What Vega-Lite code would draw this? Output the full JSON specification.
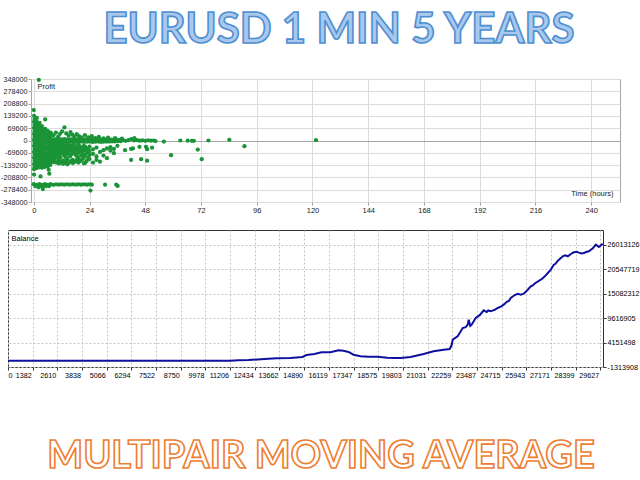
{
"$schema": "https://vega.github.io/schema/vega-lite/v6.json",
"padding": 0,
"spacing": 15,
"config": {
  "view": {"stroke": null},
  "axis": {"labelFont": "Liberation Sans", "labelFontSize": 7.5, "labelColor": "#222222", "titleFont": "Liberation Sans", "titleFontSize": 7.5, "titleFontWeight": "normal", "titleColor": "#222222", "tickSize": 3, "labelPadding": 1, "labelOverlap": false}
},
"datasets": {
  "scat": [
{"h":0.1,"p":140000},{"h":0.3,"p":122000},{"h":0.1,"p":105000},{"h":0.3,"p":88000},{"h":0.1,"p":71000},{"h":0.3,"p":54000},{"h":0.1,"p":37000},{"h":0.3,"p":20000},{"h":0.1,"p":3000},{"h":0.3,"p":-14000},{"h":0.1,"p":-31000},{"h":0.3,"p":-48000},{"h":0.1,"p":-65000},{"h":0.3,"p":-82000},{"h":0.1,"p":-99000},{"h":0.3,"p":-116000},{"h":0.1,"p":-133000},{"h":0.3,"p":-150000},{"h":0.1,"p":-162000},
{"h":1.3,"p":128000},{"h":1.1,"p":110000},{"h":1.3,"p":93000},{"h":1.1,"p":76000},{"h":1.3,"p":59000},{"h":1.1,"p":42000},{"h":1.3,"p":25000},{"h":1.1,"p":8000},{"h":1.3,"p":-9000},{"h":1.1,"p":-26000},{"h":1.3,"p":-43000},{"h":1.1,"p":-60000},{"h":1.3,"p":-77000},{"h":1.1,"p":-94000},{"h":1.3,"p":-111000},{"h":1.1,"p":-128000},{"h":1.3,"p":-145000},{"h":1.1,"p":-157000},
{"h":2.5,"p":100000},{"h":2.3,"p":84000},{"h":2.5,"p":67000},{"h":2.3,"p":50000},{"h":2.5,"p":33000},{"h":2.3,"p":16000},{"h":2.5,"p":-1000},{"h":2.3,"p":-18000},{"h":2.5,"p":-35000},{"h":2.3,"p":-52000},{"h":2.5,"p":-69000},{"h":2.3,"p":-86000},{"h":2.5,"p":-103000},{"h":2.3,"p":-120000},{"h":2.5,"p":-137000},{"h":2.3,"p":-152000},
{"h":3.5,"p":82000},{"h":3.7,"p":64000},{"h":3.5,"p":47000},{"h":3.7,"p":30000},{"h":3.5,"p":13000},{"h":3.7,"p":-4000},{"h":3.5,"p":-21000},{"h":3.7,"p":-38000},{"h":3.5,"p":-55000},{"h":3.7,"p":-72000},{"h":3.5,"p":-89000},{"h":3.7,"p":-106000},{"h":3.5,"p":-123000},{"h":3.7,"p":-140000},{"h":3.5,"p":-154000},
{"h":4.9,"p":66000},{"h":4.7,"p":49000},{"h":4.9,"p":32000},{"h":4.7,"p":15000},{"h":4.9,"p":-2000},{"h":4.7,"p":-19000},{"h":4.9,"p":-36000},{"h":4.7,"p":-53000},{"h":4.9,"p":-70000},{"h":4.7,"p":-87000},{"h":4.9,"p":-104000},{"h":4.7,"p":-121000},{"h":4.9,"p":-138000},{"h":4.7,"p":-150000},
{"h":6.0,"p":55000},{"h":6.2,"p":38000},{"h":6.0,"p":21000},{"h":6.2,"p":4000},{"h":6.0,"p":-13000},{"h":6.2,"p":-30000},{"h":6.0,"p":-47000},{"h":6.2,"p":-64000},{"h":6.0,"p":-81000},{"h":6.2,"p":-98000},{"h":6.0,"p":-115000},{"h":6.2,"p":-132000},{"h":6.0,"p":-146000},
{"h":7.3,"p":44000},{"h":7.1,"p":27000},{"h":7.3,"p":10000},{"h":7.1,"p":-7000},{"h":7.3,"p":-24000},{"h":7.1,"p":-41000},{"h":7.3,"p":-58000},{"h":7.1,"p":-75000},{"h":7.3,"p":-92000},{"h":7.1,"p":-109000},{"h":7.3,"p":-126000},{"h":7.1,"p":-138000},
{"h":2.15,"p":343000},{"h":0.0,"p":172000},{"h":4.9,"p":119000},{"h":13.2,"p":74000},{"h":0.1,"p":-193000},{"h":2.9,"p":-203000},{"h":6.4,"p":-165000},{"h":6.7,"p":-188000},
{"h":8.4,"p":7000},{"h":8.5,"p":-7000},{"h":9.6,"p":8000},{"h":9.7,"p":-6000},{"h":10.8,"p":6000},{"h":10.9,"p":-8000},{"h":12.0,"p":7000},{"h":12.1,"p":-7000},{"h":13.2,"p":8000},{"h":13.3,"p":-6000},{"h":14.4,"p":6000},{"h":14.5,"p":-8000},{"h":15.6,"p":7000},{"h":15.7,"p":-7000},{"h":16.8,"p":8000},{"h":16.9,"p":-6000},{"h":18.0,"p":6000},{"h":18.1,"p":-8000},{"h":19.2,"p":7000},{"h":19.3,"p":-7000},{"h":20.4,"p":8000},{"h":20.5,"p":-6000},{"h":21.6,"p":6000},{"h":21.7,"p":-8000},{"h":22.8,"p":7000},{"h":22.9,"p":-7000},{"h":24.0,"p":8000},{"h":24.1,"p":-6000},{"h":25.2,"p":6000},{"h":25.3,"p":-8000},{"h":26.4,"p":7000},{"h":26.5,"p":-7000},{"h":27.6,"p":8000},{"h":27.7,"p":-6000},{"h":28.8,"p":6000},{"h":28.9,"p":-8000},{"h":30.0,"p":7000},{"h":30.1,"p":-7000},{"h":31.2,"p":6000},{"h":31.3,"p":-6000},{"h":32.4,"p":5000},{"h":32.5,"p":-6000},{"h":33.6,"p":5000},{"h":33.7,"p":-5000},{"h":34.8,"p":4000},{"h":34.9,"p":-5000},{"h":36.0,"p":4000},{"h":36.1,"p":-4000},{"h":37.2,"p":3000},{"h":37.3,"p":-4000},
{"h":38.4,"p":1000},{"h":39.6,"p":-2000},{"h":40.8,"p":2000},{"h":42.0,"p":8000},{"h":43.3,"p":13000},{"h":43.2,"p":0},{"h":44.4,"p":2000},{"h":45.6,"p":-1000},{"h":46.8,"p":1000},{"h":48.0,"p":-2000},{"h":49.2,"p":1000},{"h":50.4,"p":-1000},{"h":51.6,"p":0},{"h":52.4,"p":-3000},
{"h":56.0,"p":-6000},{"h":63.1,"p":0},{"h":66.3,"p":-1000},{"h":68.1,"p":-2000},{"h":68.9,"p":-2000},{"h":75.2,"p":0},{"h":84.2,"p":4000},{"h":121.5,"p":2000},
{"h":39.3,"p":-55000},{"h":41.9,"p":-48000},{"h":42.7,"p":-45000},{"h":45.5,"p":-36000},{"h":48.3,"p":-36000},{"h":48.8,"p":-49000},{"h":50.9,"p":-41000},{"h":41.9,"p":-110000},{"h":46.2,"p":-106000},{"h":48.8,"p":-114000},{"h":59.1,"p":-83000},{"h":70.6,"p":-51000},{"h":72.3,"p":-106000},{"h":90.7,"p":-32000},
{"h":8.5,"p":30000},{"h":9.5,"p":45000},{"h":10.5,"p":22000},{"h":11.3,"p":38000},{"h":12.2,"p":52000},{"h":14.0,"p":40000},{"h":15.0,"p":28000},{"h":15.8,"p":48000},{"h":16.6,"p":33000},{"h":17.5,"p":20000},{"h":18.5,"p":36000},{"h":19.4,"p":25000},{"h":20.5,"p":17000},{"h":22.0,"p":30000},{"h":23.5,"p":18000},{"h":25.0,"p":25000},{"h":26.5,"p":14000},{"h":28.0,"p":20000},{"h":30.0,"p":12000},{"h":32.0,"p":16000},{"h":35.0,"p":14000},{"h":38.0,"p":10000},
{"h":8.4,"p":-20000},{"h":8.4,"p":-37000},{"h":8.4,"p":-54000},{"h":8.4,"p":-71000},{"h":8.4,"p":-88000},{"h":8.4,"p":-105000},{"h":8.4,"p":-122000},
{"h":9.6,"p":-22000},{"h":9.6,"p":-40000},{"h":9.6,"p":-58000},{"h":9.6,"p":-76000},{"h":9.6,"p":-94000},{"h":9.6,"p":-125000},
{"h":10.8,"p":-25000},{"h":10.8,"p":-45000},{"h":10.8,"p":-62000},{"h":10.8,"p":-80000},{"h":10.8,"p":-110000},{"h":10.8,"p":-130000},
{"h":12.0,"p":-18000},{"h":12.0,"p":-35000},{"h":12.0,"p":-52000},{"h":12.0,"p":-70000},{"h":12.0,"p":-118000},
{"h":13.2,"p":-28000},{"h":13.2,"p":-46000},{"h":13.2,"p":-64000},{"h":13.2,"p":-85000},{"h":13.2,"p":-125000},
{"h":14.4,"p":-20000},{"h":14.4,"p":-40000},{"h":14.4,"p":-75000},{"h":14.4,"p":-105000},{"h":14.4,"p":-135000},
{"h":15.6,"p":-32000},{"h":15.6,"p":-55000},{"h":15.6,"p":-90000},{"h":15.6,"p":-120000},
{"h":16.8,"p":-25000},{"h":16.8,"p":-45000},{"h":16.8,"p":-65000},{"h":16.8,"p":-110000},{"h":16.8,"p":-128000},
{"h":18.0,"p":-35000},{"h":18.0,"p":-58000},{"h":18.0,"p":-80000},{"h":18.0,"p":-118000},
{"h":19.2,"p":-22000},{"h":19.2,"p":-48000},{"h":19.2,"p":-70000},{"h":19.2,"p":-100000},{"h":19.2,"p":-125000},
{"h":20.4,"p":-40000},{"h":20.4,"p":-62000},{"h":20.4,"p":-85000},{"h":20.4,"p":-112000},
{"h":21.6,"p":-30000},{"h":21.6,"p":-55000},{"h":21.6,"p":-95000},{"h":21.6,"p":-130000},
{"h":22.8,"p":-45000},{"h":22.8,"p":-68000},{"h":22.8,"p":-115000},
{"h":24.0,"p":-35000},{"h":24.0,"p":-60000},{"h":24.0,"p":-82000},{"h":24.0,"p":-105000},
{"h":25.5,"p":-50000},{"h":25.5,"p":-75000},{"h":25.5,"p":-125000},
{"h":27.0,"p":-40000},{"h":27.0,"p":-90000},{"h":27.0,"p":-110000},
{"h":28.5,"p":-65000},{"h":28.5,"p":-120000},{"h":30.0,"p":-55000},{"h":30.0,"p":-85000},{"h":31.5,"p":-45000},{"h":31.5,"p":-100000},{"h":33.0,"p":-58000},{"h":33.0,"p":-38000},{"h":34.5,"p":-48000},{"h":34.5,"p":-72000},{"h":36.0,"p":-30000},
{"h":9.0,"p":-30000},{"h":9.0,"p":-66000},{"h":9.0,"p":-110000},
{"h":10.2,"p":-33000},{"h":10.2,"p":-52000},{"h":10.2,"p":-70000},{"h":10.2,"p":-88000},{"h":10.2,"p":-118000},
{"h":11.4,"p":-28000},{"h":11.4,"p":-60000},{"h":11.4,"p":-95000},{"h":11.4,"p":-125000},
{"h":12.6,"p":-26000},{"h":12.6,"p":-43000},{"h":12.6,"p":-78000},{"h":12.6,"p":-112000},{"h":12.6,"p":-132000},
{"h":13.8,"p":-32000},{"h":13.8,"p":-55000},{"h":13.8,"p":-95000},{"h":13.8,"p":-118000},
{"h":15.0,"p":-22000},{"h":15.0,"p":-45000},{"h":15.0,"p":-68000},{"h":15.0,"p":-128000},
{"h":16.2,"p":-38000},{"h":16.2,"p":-78000},{"h":16.2,"p":-115000},
{"h":17.4,"p":-28000},{"h":17.4,"p":-50000},{"h":17.4,"p":-70000},{"h":17.4,"p":-122000},
{"h":18.6,"p":-44000},{"h":18.6,"p":-90000},{"h":18.6,"p":-110000},
{"h":19.8,"p":-33000},{"h":19.8,"p":-58000},{"h":19.8,"p":-118000},
{"h":21.0,"p":-45000},{"h":21.0,"p":-75000},{"h":21.0,"p":-105000},
{"h":22.2,"p":-38000},{"h":22.2,"p":-80000},{"h":22.2,"p":-125000},
{"h":23.4,"p":-52000},{"h":23.4,"p":-95000},
{"h":0.0,"p":-247000},{"h":1.2,"p":-251000},{"h":2.4,"p":-247000},{"h":3.6,"p":-251000},{"h":4.8,"p":-247000},{"h":6.0,"p":-251000},{"h":7.2,"p":-247000},{"h":8.4,"p":-251000},{"h":9.6,"p":-248000},{"h":10.8,"p":-250000},{"h":12.0,"p":-248000},{"h":13.2,"p":-250000},{"h":14.4,"p":-248000},{"h":15.6,"p":-250000},{"h":16.8,"p":-248000},{"h":18.0,"p":-250000},{"h":19.2,"p":-248000},{"h":20.4,"p":-250000},{"h":21.6,"p":-248000},{"h":22.8,"p":-250000},{"h":24.0,"p":-248000},{"h":25.0,"p":-250000},
{"h":0.6,"p":-258000},{"h":1.8,"p":-258000},{"h":3.0,"p":-258000},{"h":4.2,"p":-258000},{"h":5.4,"p":-258000},{"h":6.6,"p":-258000},
{"h":2.0,"p":-265000},{"h":3.9,"p":-275000},{"h":24.4,"p":-283000},{"h":30.7,"p":-250000},{"h":35.5,"p":-250000},{"h":36.1,"p":-257000}
  ],
  "bal": [
{"t":154,"b":100000},{"t":5138,"b":100000},{"t":11218,"b":100000},{"t":11616,"b":190000},{"t":12115,"b":260000},{"t":12912,"b":480000},{"t":13510,"b":630000},{"t":14208,"b":700000},{"t":14806,"b":930000},{"t":15005,"b":1370000},{"t":15404,"b":1600000},{"t":15753,"b":1980000},{"t":16201,"b":1980000},{"t":16600,"b":2430000},{"t":16849,"b":2340000},{"t":17098,"b":2050000},{"t":17347,"b":1440000},{"t":17696,"b":1080000},{"t":18095,"b":1000000},{"t":18543,"b":990000},{"t":19042,"b":770000},{"t":19391,"b":700000},{"t":19690,"b":700000},{"t":20188,"b":930000},{"t":20836,"b":1600000},{"t":21334,"b":2200000},{"t":21833,"b":2560000},{"t":22132,"b":2720000},{"t":22231,"b":3600000},{"t":22281,"b":4800000},{"t":22530,"b":5560000},{"t":22780,"b":7420000},{"t":22929,"b":7600000},{"t":23029,"b":8160000},{"t":23079,"b":9280000},{"t":23158,"b":7900000},{"t":23228,"b":8160000},{"t":23427,"b":9660000},{"t":23627,"b":10300000},{"t":23826,"b":11390000},{"t":23976,"b":11000000},{"t":24050,"b":11350000},{"t":24175,"b":11160000},{"t":24374,"b":11500000},{"t":24524,"b":11900000},{"t":24673,"b":12200000},{"t":24823,"b":12640000},{"t":24972,"b":13300000},{"t":25080,"b":13500000},{"t":25172,"b":14140000},{"t":25371,"b":14800000},{"t":25521,"b":15100000},{"t":25670,"b":14900000},{"t":25819,"b":15100000},{"t":26018,"b":16000000},{"t":26168,"b":16760000},{"t":26250,"b":16900000},{"t":26368,"b":17400000},{"t":26667,"b":18240000},{"t":26750,"b":18500000},{"t":26866,"b":19000000},{"t":27016,"b":19740000},{"t":27165,"b":20500000},{"t":27315,"b":21600000},{"t":27400,"b":21800000},{"t":27514,"b":22500000},{"t":27763,"b":23480000},{"t":27880,"b":23700000},{"t":28012,"b":23480000},{"t":28162,"b":24000000},{"t":28311,"b":24380000},{"t":28450,"b":24500000},{"t":28561,"b":24300000},{"t":28700,"b":24100000},{"t":28810,"b":24220000},{"t":28959,"b":24500000},{"t":29059,"b":24600000},{"t":29258,"b":25300000},{"t":29408,"b":26080000},{"t":29557,"b":25560000},{"t":29747,"b":26300000}
  ]
},
"vconcat": [
  {
    "width": 626, "height": 60,
    "data": {"values": [{"label": "EURUSD 1 MIN 5 YEARS"}]},
    "mark": {"type": "text", "font": "Lato", "fontWeight": "bold", "fontSize": 42, "fill": "#a8c8ee", "stroke": "#4f8fd0", "strokeWidth": 1.6, "dx": 18, "baseline": "middle"},
    "encoding": {"text": {"field": "label"}}
  },
  {
    "spacing": 0,
    "hconcat": [
      {
        "width": 1, "height": 123,
        "data": {"values": [{"p": 0}]},
        "mark": {"type": "point", "size": 1, "opacity": 0},
        "encoding": {
          "y": {"field": "p", "type": "quantitative",
            "scale": {"domain": [-348000, 348000], "nice": false, "zero": false},
            "axis": {"orient": "right", "values": [-348000, -278400, -208800, -139200, -69600, 0, 69600, 139200, 208800, 278400, 348000], "tickCount": 30, "labelExpr": "'' + datum.value",
              "ticks": false, "tickSize": 0, "domain": false, "grid": false, "labelAlign": "right", "labelPadding": 18, "labelFontSize": 7.2, "labelOverlap": false, "title": null}}
        }
      },
      {
        "width": 589, "height": 123,
        "view": {"stroke": "#a6a6a6", "strokeWidth": 1},
        "data": {"name": "scat"},
        "mark": {"type": "circle", "color": "#1a9436", "size": 18, "opacity": 1},
        "encoding": {
          "x": {"field": "h", "type": "quantitative",
            "scale": {"domain": [-1.2, 252.4], "nice": false, "zero": false},
            "axis": {"values": [0, 24, 48, 72, 96, 120, 144, 168, 192, 216, 240], "tickCount": 30, "domain": false, "grid": true, "gridColor": "#dcdcdc", "tickColor": "#a6a6a6", "labelFlush": false, "labelOverlap": false,
              "title": "Time (hours)", "titleX": 582, "titleY": -5, "titleAlign": "right", "titleBaseline": "bottom", "titleAngle": 0}},
          "y": {"field": "p", "type": "quantitative",
            "scale": {"domain": [-348000, 348000], "nice": false, "zero": false},
            "axis": {"values": [-348000, -278400, -208800, -139200, -69600, 0, 69600, 139200, 208800, 278400, 348000], "tickCount": 30, "labels": false, "domain": false, "grid": true,
              "gridColor": {"condition": {"test": "datum.value == 0", "value": "#a6a6a6"}, "value": "#dcdcdc"}, "tickColor": "#a6a6a6",
              "title": "Profit", "titleX": 6, "titleY": 3, "titleAlign": "left", "titleBaseline": "top", "titleAngle": 0}}
        }
      }
    ]
  },
  {
    "width": 595, "height": 137,
    "view": {"stroke": "#333333", "strokeWidth": 1},
    "data": {"name": "bal"},
    "layer": [
      {
        "mark": {"type": "line", "color": "#10109e", "strokeWidth": 2},
        "encoding": {
          "x": {"field": "t", "type": "quantitative",
            "scale": {"domain": [154, 29762], "nice": false, "zero": false},
            "axis": {"values": [154, 1382, 2610, 3838, 5066, 6294, 7522, 8750, 9978, 11206, 12434, 13662, 14890, 16119, 17347, 18575, 19803, 21031, 22259, 23487, 24715, 25943, 27171, 28399, 29627],
              "tickCount": 40, "labelExpr": "datum.value < 200 ? '0' : '' + datum.value", "domain": false, "grid": true, "gridDash": [2, 2], "gridColor": "#c4c4c4", "tickColor": "#333333", "labelColor": "#000000", "labelOverlap": false, "labelFontSize": 7.2,
              "labelFlush": false,
              "labelAlign": {"condition": {"test": "datum.value < 200", "value": "left"}, "value": "right"},
              "labelOffset": {"condition": {"test": "datum.value < 200", "value": 0}, "value": -1.5}, "title": null}},
          "y": {"field": "b", "type": "quantitative",
            "scale": {"domain": [-1313908, 29373000], "nice": false, "zero": false},
            "axis": {"orient": "right", "values": [-1313908, 4151498, 9616905, 15082312, 20547719, 26013126], "tickCount": 30, "labelExpr": "'' + datum.value", "labelFontSize": 7.2, "domain": false, "grid": true, "gridDash": [2, 2], "gridColor": "#c4c4c4", "tickColor": "#333333", "labelColor": "#000000", "labelOverlap": false, "title": null}}
        }
      },
      {
        "mark": {"type": "line", "opacity": 0},
        "encoding": {
          "x": {"field": "t", "type": "quantitative"},
          "y": {"field": "b", "type": "quantitative",
            "axis": {"orient": "left", "labels": false, "domain": false, "grid": false, "ticks": false,
              "title": "Balance", "titleX": 3, "titleY": 4, "titleAlign": "left", "titleBaseline": "top", "titleAngle": 0, "titleColor": "#000000"}}
        }
      }
    ],
    "resolve": {"axis": {"y": "independent"}}
  },
  {
    "width": 626, "height": 125,
    "data": {"values": [{"label": "MULTIPAIR MOVING AVERAGE"}]},
    "mark": {"type": "text", "font": "Lato", "fontWeight": "bold", "fontSize": 38, "fill": "#ffffff", "stroke": "#ed7d31", "strokeWidth": 1.6, "dx": 0, "baseline": "middle"},
    "encoding": {"text": {"field": "label"}}
  }
]
}
